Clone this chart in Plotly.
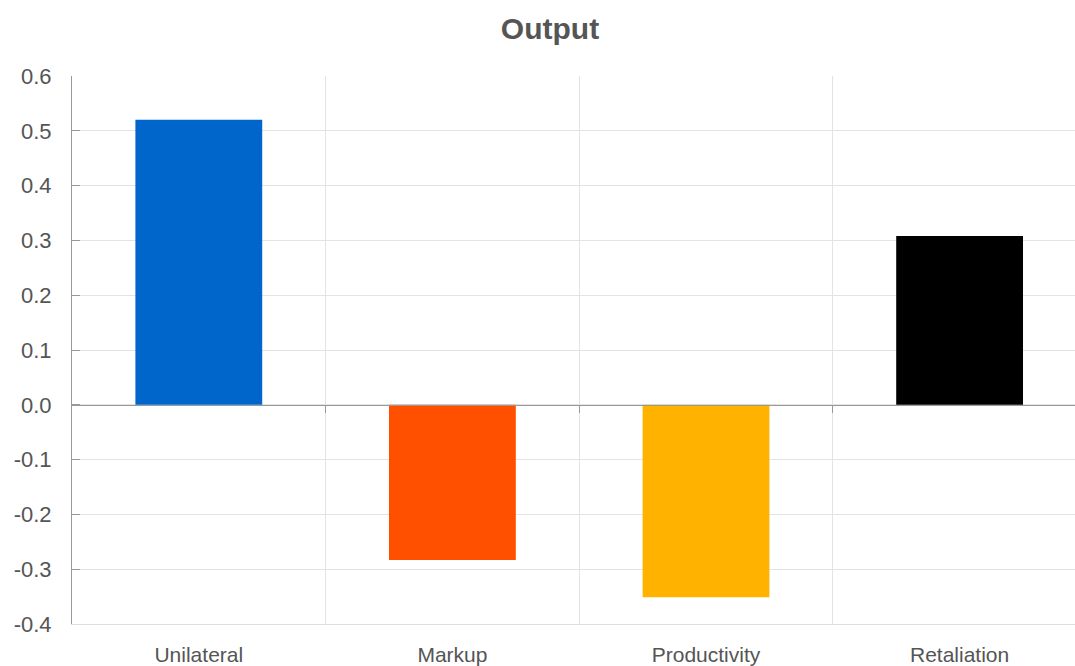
import plotly.graph_objects as go

categories = ["Unilateral", "Markup", "Productivity", "Retaliation"]
values = [0.52, -0.283, -0.351, 0.308]
colors = ["#0066CC", "#FF5000", "#FFB300", "#000000"]
ytick_vals = [-0.4, -0.3, -0.2, -0.1, 0.0, 0.1, 0.2, 0.3, 0.4, 0.5, 0.6]
ytick_text = ["-0.4", "-0.3", "-0.2", "-0.1", "0.0", "0.1", "0.2", "0.3", "0.4", "0.5", "0.6"]

W, H = 1075, 666
xr = [-0.5, 3.455]

fig = go.Figure()
fig.add_trace(go.Bar(x=categories, y=values, marker=dict(color=colors, line=dict(width=0)),
                     width=0.5, showlegend=False, hoverinfo="x+y"))

font = "Liberation Sans, Arial, sans-serif"
fig.update_layout(
    width=W, height=H,
    margin=dict(l=72, r=0, t=76, b=42),
    paper_bgcolor="white", plot_bgcolor="white",
    title=dict(text="<b>Output</b>", x=550 / W, xanchor="center", y=1 - 28 / H, yanchor="middle",
               font=dict(family=font, size=30, color="#555555")),
    font=dict(family=font, color="#555555"),
    xaxis=dict(type="category", categoryorder="array", categoryarray=categories,
               range=xr, tickson="boundaries", showgrid=True, gridcolor="#e3e3e3", gridwidth=1,
               ticks="", showline=True, linecolor="#dddddd", linewidth=1, zeroline=False,
               tickfont=dict(size=21, color="#555555"), ticklabelstandoff=12),
    xaxis2=dict(overlaying="x", anchor="free", position=0.4, range=xr,
                tickvals=[0.5, 1.5, 2.5], ticks="outside", ticklen=7, tickcolor="#999999",
                showticklabels=False, showgrid=False, zeroline=False,
                showline=True, linecolor="#999999", linewidth=1),
    yaxis=dict(range=[-0.4, 0.6], tickvals=ytick_vals, ticktext=ytick_text,
               showgrid=True, gridcolor="#e3e3e3", gridwidth=1, zeroline=False,
               showline=True, linecolor="#999999", linewidth=1,
               ticks="inside", ticklen=8, tickcolor="#999999",
               tickfont=dict(size=22, color="#555555"), ticklabelstandoff=15),
)
fig.add_trace(go.Scatter(x=[None], y=[None], xaxis="x2", showlegend=False, hoverinfo="skip"))

fig.write_html("out.html")
